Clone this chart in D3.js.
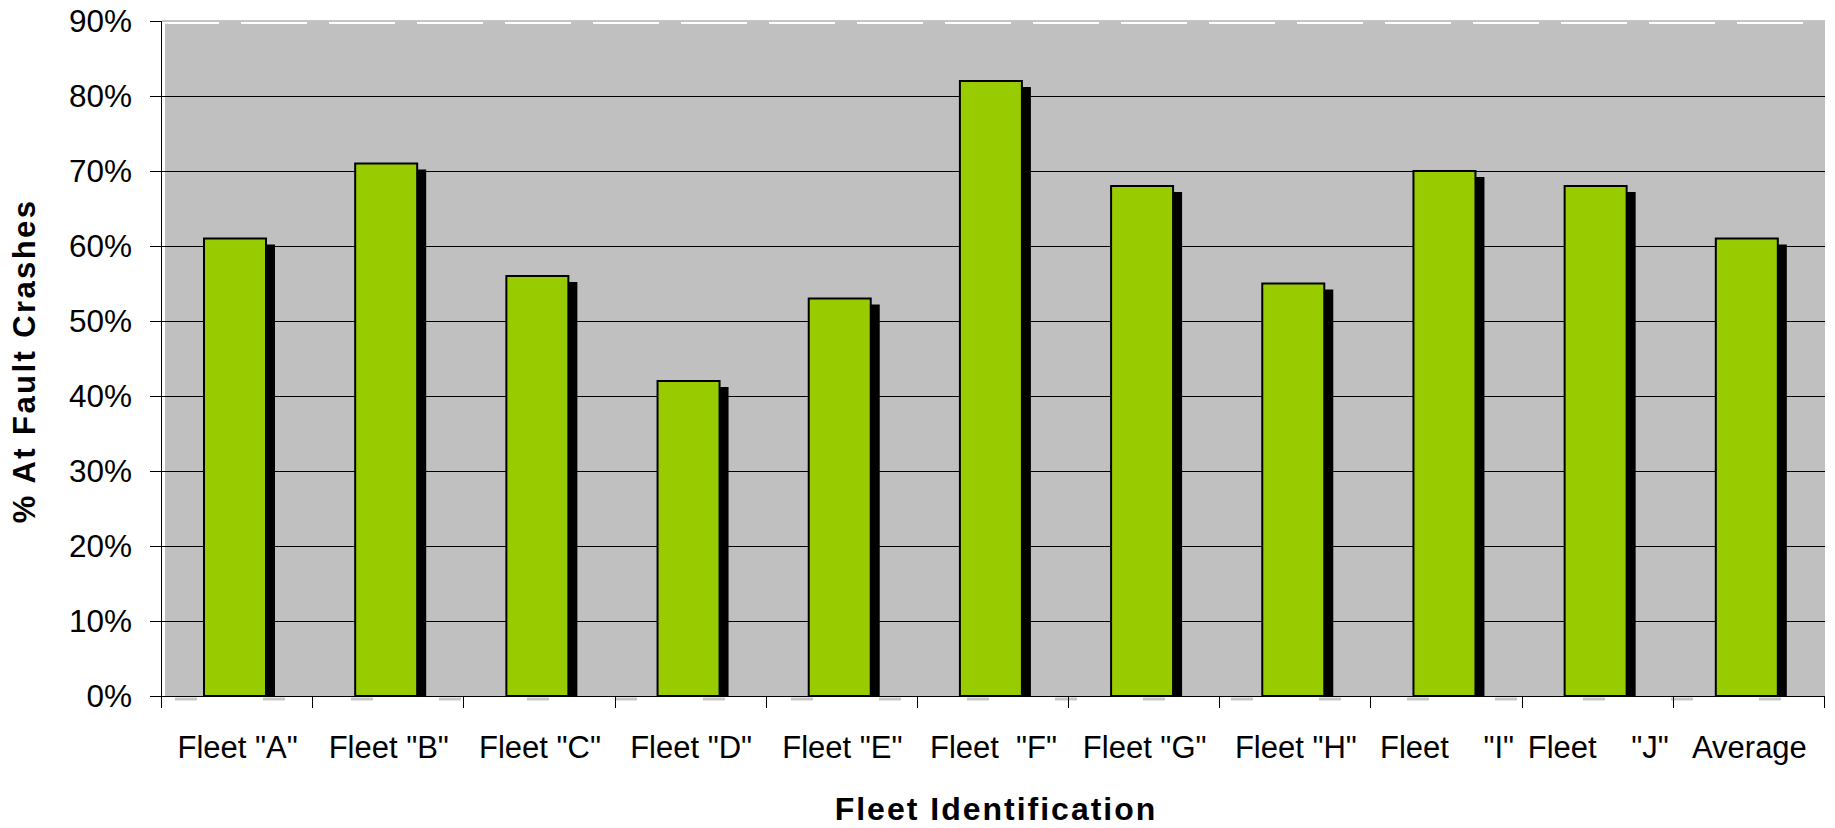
<!DOCTYPE html>
<html>
<head>
<meta charset="utf-8">
<script src="https://cdn.jsdelivr.net/npm/d3@7/dist/d3.min.js"></script>
<style>
  html, body { margin: 0; padding: 0; background: #ffffff; }
  svg { display: block; }
  text { font-family: "Liberation Sans", Arial, sans-serif; fill: #000; }
</style>
</head>
<body>
<svg id="chart" width="1835" height="828"></svg>
<script>
const categories = ['Fleet "A"', 'Fleet "B"', 'Fleet "C"', 'Fleet "D"', 'Fleet "E"', 'Fleet  "F"', 'Fleet "G"', 'Fleet "H"', 'Fleet    "I"', 'Fleet    "J"', 'Average'];
const values = [0.61, 0.71, 0.56, 0.42, 0.53, 0.82, 0.68, 0.55, 0.70, 0.68, 0.61];
const yTicks = [0, 0.1, 0.2, 0.3, 0.4, 0.5, 0.6, 0.7, 0.8, 0.9];
const yTitle = "% At Fault Crashes";
const xTitle = "Fleet Identification";

(function () {
const svg = d3.select("#chart");
const pL = 162, pR = 1825, pT = 21, pB = 696;

const x = d3.scaleBand().domain(categories).range([pL, pR]).padding(0);
const y = d3.scaleLinear().domain([0, 0.9]).range([pB, pT]);

// plot background
svg.append("rect").attr("x", pL + 3).attr("y", pT + 3)
  .attr("width", pR - pL - 3).attr("height", pB - pT - 3)
  .attr("fill", "#c0c0c0");

// top border strip pattern
svg.append("line").attr("x1", pL).attr("x2", pR).attr("y1", pT).attr("y2", pT)
  .attr("stroke", "#8c8c8c").attr("stroke-width", 1);
svg.append("line").attr("x1", pL + 57).attr("x2", pR).attr("y1", pT + 2).attr("y2", pT + 2)
  .attr("stroke", "#c0c0c0").attr("stroke-width", 3).attr("stroke-dasharray", "22,66");
// bottom stub pattern
svg.append("line").attr("x1", pL + 13).attr("x2", pR).attr("y1", pB + 3).attr("y2", pB + 3)
  .attr("stroke", "#c8c8c8").attr("stroke-width", 3).attr("stroke-dasharray", "22,66");

// gridlines
svg.append("g").selectAll("line").data(yTicks.filter(d => d > 0 && d < 0.9)).join("line")
  .attr("x1", pL).attr("x2", pR)
  .attr("y1", d => Math.round(y(d)) + 0.5).attr("y2", d => Math.round(y(d)) + 0.5)
  .attr("stroke", "#000").attr("stroke-width", 1);

// bars
const barOff = 42, barW = 62, shX = 9, shY = 6;
const bars = svg.append("g");
bars.selectAll("rect.shadow").data(values).join("rect").attr("class", "shadow")
  .attr("x", (d, i) => x(categories[i]) + barOff + shX)
  .attr("y", d => y(d) + shY)
  .attr("width", barW)
  .attr("height", d => pB - y(d) - shY)
  .attr("fill", "#000");
bars.selectAll("rect.bar").data(values).join("rect").attr("class", "bar")
  .attr("x", (d, i) => x(categories[i]) + barOff)
  .attr("y", d => y(d))
  .attr("width", barW)
  .attr("height", d => pB - y(d))
  .attr("fill", "#99cc00").attr("stroke", "#000").attr("stroke-width", 2);

// y axis
const yAxis = d3.axisLeft(y).tickValues(yTicks).tickFormat(d3.format(".0%")).tickSize(12).tickPadding(18);
const gy = svg.append("g").attr("transform", `translate(${pL},0)`).call(yAxis);
gy.select(".domain").attr("stroke", "#000").attr("d", `M-0.5,${pT}V${pB}`);
gy.selectAll(".tick line").attr("stroke", "#000");
gy.selectAll(".tick text").style("font-size", "31.5px").style("font-family", '"Liberation Sans", Arial, sans-serif').attr("fill", "#000");

// x axis
const gx = svg.append("g").attr("transform", `translate(0,${pB})`);
gx.append("line").attr("x1", pL - 12).attr("x2", pR).attr("y1", 0.5).attr("y2", 0.5).attr("stroke", "#000");
const bounds = categories.map(c => x(c)).concat([pR]);
gx.selectAll("line.tk").data(bounds).join("line").attr("class", "tk")
  .attr("x1", d => Math.round(d) - 0.5).attr("x2", d => Math.round(d) - 0.5)
  .attr("y1", 0).attr("y2", 12).attr("stroke", "#000");
gx.selectAll("text").data(categories).join("text")
  .attr("x", c => x(c) + x.bandwidth() / 2)
  .attr("y", 62)
  .attr("text-anchor", "middle")
  .style("font-size", "31px")
  .style("white-space", "pre")
  .attr("xml:space", "preserve")
  .text(c => c);

// axis titles
svg.append("text").attr("x", 996).attr("y", 820).attr("text-anchor", "middle")
  .style("font-size", "32px").style("font-weight", "bold").style("letter-spacing", "2px").text(xTitle);
svg.append("text").attr("transform", "translate(35,361) rotate(-90)").attr("text-anchor", "middle")
  .style("font-size", "31px").style("font-weight", "bold").style("letter-spacing", "2.4px").text(yTitle);
})();
</script>
</body>
</html>
